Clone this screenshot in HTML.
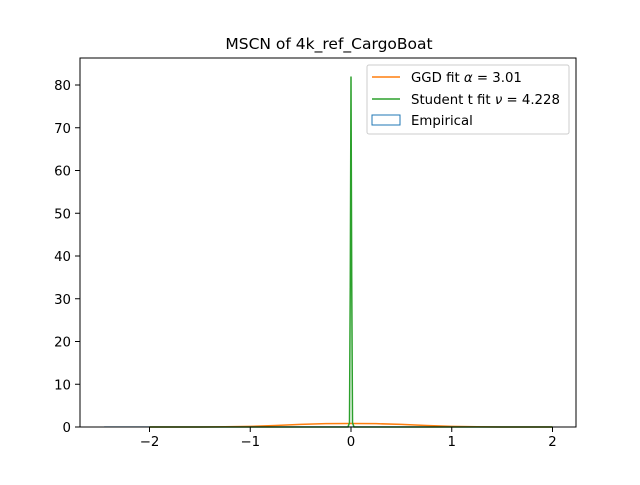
<!DOCTYPE html>
<html><head><meta charset="utf-8"><style>
body{margin:0;background:#fff}
svg text{font-family:"DejaVu Sans","Liberation Sans",sans-serif}
</style></head><body>
<svg id="chart" width="640" height="480" viewBox="0 0 640 480">
<rect width="640" height="480" fill="#fff"/>
<text x="329" y="49" font-size="15.5" text-anchor="middle">MSCN of 4k_ref_CargoBoat</text>
<g id="marks"></g>
<g id="axes"></g>
<rect x="80" y="58" width="496" height="369" fill="none" stroke="#000" stroke-width="1"/>
<g>
<rect x="367" y="65" width="202" height="69" rx="2" fill="#fff" fill-opacity="0.8" stroke="#ccc"/>
<line x1="372" y1="77" x2="400" y2="77" stroke="#ff7f0e" stroke-width="1.5"/>
<text x="411" y="82" font-size="13.3">GGD fit <tspan font-style="italic">α</tspan> = 3.01</text>
<line x1="372" y1="99" x2="400" y2="99" stroke="#2ca02c" stroke-width="1.5"/>
<text x="411" y="104" font-size="13.3">Student t fit <tspan font-style="italic">ν</tspan> = 4.228</text>
<rect x="372" y="115" width="28" height="10" fill="none" stroke="#1f77b4"/>
<text x="411" y="125" font-size="13.3">Empirical</text>
</g>
</svg>
<script>
const xTicks=[-2,-1,0,1,2];
const yTicks=[0,10,20,30,40,50,60,70,80];
const ggdX=[-2,-1.75,-1.5,-1.25,-1,-0.75,-0.5,-0.25,0,0.25,0.5,0.75,1,1.25,1.5,1.75,2];
const ggdY=[0,0,0.01,0.05,0.15,0.35,0.6,0.78,0.83,0.78,0.6,0.35,0.15,0.05,0.01,0,0];
const tX=[-2,-0.03,-0.015,-0.007,0,0.007,0.015,0.03,2];
const tY=[0,0,1,35,82,35,1,0,0];
const empX=[-2.45,2];
const empY=[0.02,0.02];
const sx=v=>351+v*100.75;
const sy=v=>427-v*4.275;
const NS='http://www.w3.org/2000/svg';
const axes=document.getElementById('axes'),marks=document.getElementById('marks');
function mk(tag,attrs,parent){const e=document.createElementNS(NS,tag);for(const k in attrs)e.setAttribute(k,attrs[k]);parent.appendChild(e);return e;}
xTicks.forEach(t=>{
 const l=mk('line',{x1:sx(t),x2:sx(t),y1:427,y2:432,stroke:'#000'},axes);
 
 
 const tx=mk('text',{x:sx(t),y:446,'font-size':13.3,'text-anchor':'middle'},axes);
 tx.textContent=t<0?'−'+(-t):String(t);
 
 
});
yTicks.forEach(t=>{
 const l=mk('line',{x1:75,x2:80,y1:sy(t),y2:sy(t),stroke:'#000'},axes);
 
 
 const tx=mk('text',{x:71,y:sy(t)+5,'font-size':13.3,'text-anchor':'end'},axes);
 tx.textContent=String(t);
 
 
});
const pts=(X,Y)=>X.map((x,i)=>sx(x)+','+sy(Y[i])).join(' ');
const e=mk('polyline',{points:pts(empX,empY),fill:'none',stroke:'#1f77b4','stroke-width':1},marks);


const g=mk('polyline',{points:pts(ggdX,ggdY),fill:'none',stroke:'#ff7f0e','stroke-width':1.5},marks);


const s=mk('polyline',{points:pts(tX,tY),fill:'none',stroke:'#2ca02c','stroke-width':1.5},marks);


</script>
</body></html>
